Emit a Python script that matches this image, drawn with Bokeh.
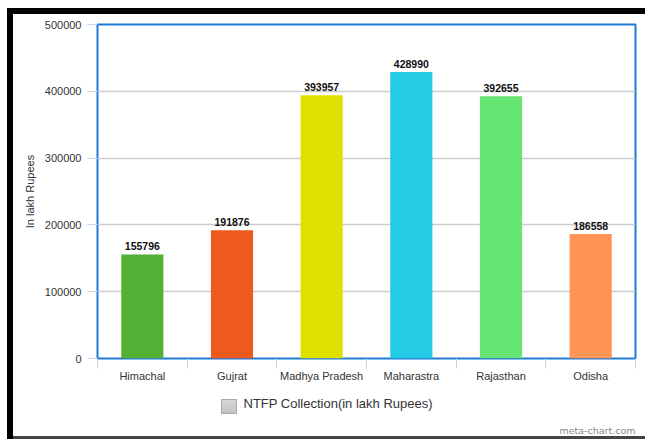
from bokeh.plotting import figure
from bokeh.models import (ColumnDataSource, Range1d, FixedTicker, NumeralTickFormatter, Title)
from bokeh.core.properties import value
from bokeh.embed import file_html
from bokeh.resources import INLINE

states = ["Himachal", "Gujrat", "Madhya Pradesh", "Maharastra", "Rajasthan", "Odisha"]
collection = [155796, 191876, 393957, 428990, 392655, 186558]
colors = ["#52b035", "#ee5a1e", "#dfe000", "#23cbe4", "#66e572", "#ff9455"]
y_ticks = [0, 100000, 200000, 300000, 400000, 500000]
series_name = "NTFP Collection(in lakh Rupees)"
y_title = "In lakh Rupees"
credit = "meta-chart.com"

pos = [i + 0.5 for i in range(len(states))]
labels = [str(v) for v in collection]
src = ColumnDataSource(dict(x=pos, top=collection, color=colors, label=labels))

p = figure(width=645, height=439, output_backend="svg", toolbar_location=None,
           x_range=Range1d(0, len(states)), y_range=Range1d(0, 500000),
           min_border_left=97, min_border_right=10, min_border_top=24, min_border_bottom=81)
p.background_fill_color = "white"
p.border_fill_alpha = 0
# screenshot frame (black bands) and the legend swatch, drawn as the page background
p.styles = {
    "background": ("linear-gradient(#000,#000) 7px 8px / 638px 6px no-repeat, "
                   "linear-gradient(#000,#000) 7px 8px / 6px 431px no-repeat, "
                   "linear-gradient(#444,#444) 7px 436px / 638px 3px no-repeat, "
                   "linear-gradient(#d6d6d6,#c4c4c4) 222px 400px / 14px 13px no-repeat, "
                   "linear-gradient(#aaaaaa,#aaaaaa) 221px 399px / 16px 15px no-repeat, #ffffff")
}
p.outline_line_color = "#1f7ad6"
p.outline_line_width = 2

p.vbar(x="x", top="top", width=0.47, bottom=0, fill_color="color", line_color=None, source=src)
p.text(x="x", y="top", text="label", source=src, text_align="center", text_baseline="bottom",
       y_offset=-4, text_font=value("Liberation Sans"), text_font_size="10.5px",
       text_font_style="bold", text_color="#111111")

# y axis
ya = p.yaxis[0]
ya.ticker = FixedTicker(ticks=y_ticks)
ya.formatter = NumeralTickFormatter(format="0")
ya.axis_line_color = None
ya.major_tick_out = 10
ya.major_tick_in = 0
ya.major_tick_line_color = "#c8d4e2"
ya.minor_tick_line_color = None
ya.major_label_text_font = "Liberation Sans"
ya.major_label_text_font_size = "11px"
ya.major_label_text_color = "#333333"
ya.major_label_standoff = 6
ya.axis_label = y_title
ya.axis_label_text_font = "Liberation Sans"
ya.axis_label_text_font_size = "11px"
ya.axis_label_text_font_style = "normal"
ya.axis_label_text_color = "#333333"
ya.axis_label_standoff = 6

# x axis
xa = p.xaxis[0]
xa.ticker = FixedTicker(ticks=pos, minor_ticks=list(range(len(states) + 1)))
xa.major_label_overrides = {p_: s for p_, s in zip(pos, states)}
xa.axis_line_color = None
xa.major_tick_line_color = None
xa.major_tick_out = 0
xa.major_tick_in = 0
xa.minor_tick_line_color = "#c8d4e2"
xa.minor_tick_out = 10
xa.minor_tick_in = 0
xa.major_label_text_font = "Liberation Sans"
xa.major_label_text_font_size = "11px"
xa.major_label_text_color = "#333333"
xa.major_label_standoff = 1

p.xgrid.grid_line_color = None
p.ygrid.grid_line_color = "#cccccc"
p.ygrid.grid_line_width = 1.5

# legend text and credit, as titles under the x axis
legend_title = Title(text=series_name, align="left", offset=146, standoff=19,
                     text_font="Liberation Sans", text_font_size="13px",
                     text_color="#333333", text_font_style="normal")
p.add_layout(legend_title, "below")

credit_title = Title(text=credit, align="right", text_font="DejaVu Sans", text_font_size="9.5px",
                     text_color="#888888", text_font_style="normal", standoff=4, offset=0)
p.add_layout(credit_title, "below")

open("out.html", "w").write(file_html(p, INLINE))
